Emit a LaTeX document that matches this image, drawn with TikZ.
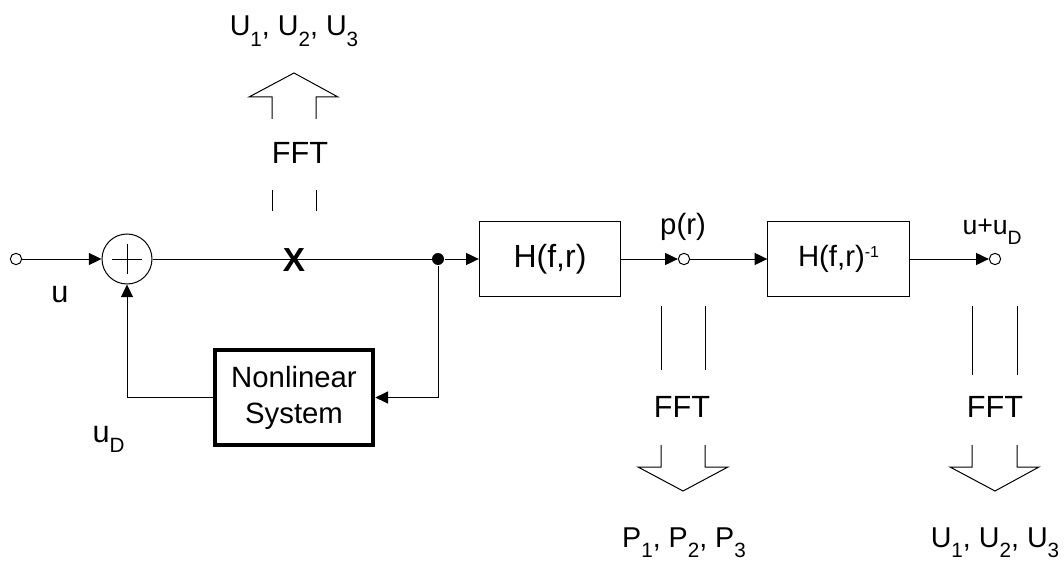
\documentclass[tikz,border=0pt]{standalone}
\usepackage{fontspec}
\setmainfont{Liberation Sans}
\usetikzlibrary{positioning,arrows.meta}
\newcommand{\idx}[1]{\raisebox{-8pt}{\fontsize{15.5}{16}\selectfont #1}}

\begin{document}
\begin{tikzpicture}[
x=0.75pt,y=-0.75pt,
line width=0.75pt,
box/.style={rectangle,draw,line width=0.8pt,minimum width=106pt,minimum height=56pt,font=\fontsize{24}{26}\selectfont},
nlbox/.style={rectangle,draw,line width=3pt,minimum width=119pt,minimum height=71pt,align=center,font=\fontsize{22}{27}\selectfont},
sum/.style={circle,draw,minimum size=37.5pt,inner sep=0pt},
port/.style={circle,draw,fill=white,minimum size=8.5pt,inner sep=0pt},
junction/.style={circle,fill,minimum size=9pt,inner sep=0pt},
lbl/.style={inner sep=0pt,font=\fontsize{21.5}{24}\selectfont},
arrow/.style={-{Triangle[length=9.5pt,width=9pt]}}
]
\useasboundingbox (0,0) rectangle (1064,563);
\node[port] (in) at (16,259) {};
\node[sum] (add) at (127,259) {};
\draw ([xshift=-11.25pt]add.center) -- ([xshift=11.25pt]add.center);
\draw ([yshift=-11.25pt]add.center) -- ([yshift=11.25pt]add.center);
\node[junction] (split) at (438,259) {};
\node[box] (plant) at (550,259) {H(f,r)};
\node[port] (p) at (684,259) {};
\node[box,font=\fontsize{22}{24}\selectfont] (inv) at (838.5,259) {H(f,r)\raisebox{7pt}{\fontsize{12}{12}\selectfont -1}};
\node[port] (out) at (995,259) {};
\node[nlbox] (nl) at (294,397.5) {Nonlinear\\System};
\draw[arrow] (in) -- (add);
\draw (add) -- (split);
\draw[arrow] (split) -- (plant);
\draw[arrow] (plant) -- (p);
\draw[arrow] (p) -- (inv);
\draw[arrow] (inv) -- (out);
\draw[arrow] (split) |- (nl);
\draw[arrow] (nl) -| (add);
% labels on the signal path
\node[lbl,font=\fontsize{23}{25}\selectfont] (uin) at (60,295) {u};
\node[lbl,font=\bfseries\fontsize{25}{27}\selectfont] (cut) at (294,260) {X};
\node[lbl,font=\fontsize{23}{25}\selectfont,anchor=base west] (ud) at (92,442) {u\idx{D}};
\node[lbl,font=\fontsize{22}{24}\selectfont] (pr) at (683,227) {p(r)};
\node[lbl,font=\fontsize{20}{22}\selectfont,anchor=base west] (usum) at (962,234) {u+u\raisebox{-7.5pt}{\fontsize{14.5}{15}\selectfont D}};
% FFT at the cut
\node[lbl,anchor=base] (utop) at (294,36) {U\idx{1}, U\idx{2}, U\idx{3}};
\node[lbl,font=\fontsize{23}{25}\selectfont] (ffttop) at (300,153) {FFT};
\draw (272,119) -- (272,97) -- (249,97) -- (294,73) -- (338,97) -- (316,97) -- (316,119);
\draw (272,190) -- (272,211) (316,190) -- (316,211);
% FFT of p(r)
\node[lbl,font=\fontsize{23}{25}\selectfont] (fftp) at (682,407) {FFT};
\node[lbl,anchor=base] (pout) at (684,547) {P\idx{1}, P\idx{2}, P\idx{3}};
\draw (661,306) -- (661,370) (705,306) -- (705,370);
\draw (661,445) -- (661,467) -- (638,467) -- (683,491) -- (728,467) -- (705,467) -- (705,445);
% FFT of u+uD
\node[lbl,font=\fontsize{23}{25}\selectfont] (fftu) at (995,407) {FFT};
\node[lbl,anchor=base] (uout) at (995,547) {U\idx{1}, U\idx{2}, U\idx{3}};
\draw (972,306) -- (972,375) (1017,306) -- (1017,375);
\draw (972,445) -- (972,467) -- (950,467) -- (995,491) -- (1039,467) -- (1017,467) -- (1017,445);
\end{tikzpicture}
\end{document}
